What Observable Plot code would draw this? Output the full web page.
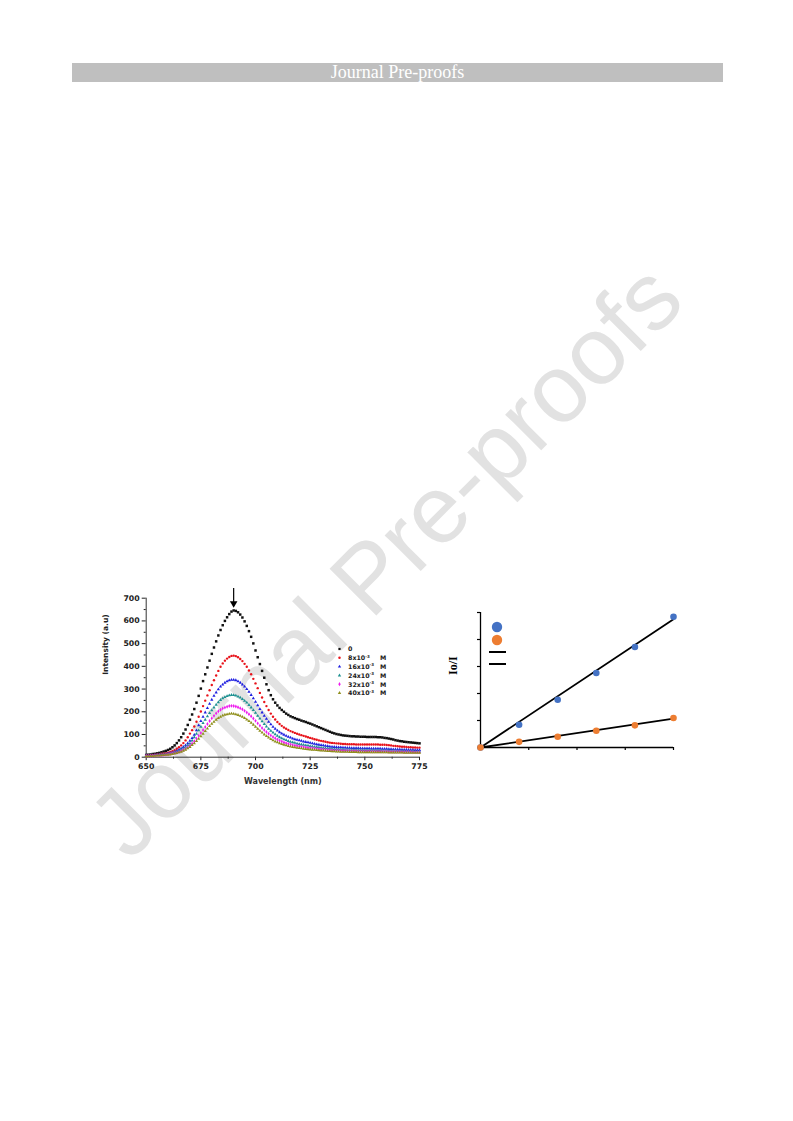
<!DOCTYPE html>
<html>
<head>
<meta charset="utf-8">
<script src="https://cdn.jsdelivr.net/npm/d3@7"></script>
<script src="https://cdn.jsdelivr.net/npm/@observablehq/plot@0.6"></script>
<style>
html,body{margin:0;padding:0;background:#fff;}
#page{position:relative;width:793px;height:1121px;overflow:hidden;background:#fff;}
#header{position:absolute;left:72px;top:63px;width:651px;height:19px;background:#bfbfbf;color:#fff;
  font-family:"Liberation Serif","Times New Roman",serif;font-size:18px;line-height:19px;text-align:center;}
#wm{position:absolute;left:385px;top:560px;transform:translate(-50%,-50%) rotate(-45deg);
  font-family:"Liberation Sans",Arial,sans-serif;font-size:96px;color:#e2e2e2;white-space:nowrap;line-height:1;}
#left{position:absolute;left:95px;top:575px;}
#right{position:absolute;left:445px;top:600px;}
#legL{position:absolute;left:330px;top:640px;}
#legR{position:absolute;left:485px;top:620px;}
</style>
</head>
<body>
<div id="page">
  <div id="header">Journal Pre-proofs</div>
  <div id="wm">Journal Pre-proofs</div>
  <div id="left"></div>
  <div id="right"></div>
  <svg id="legL" width="70" height="60"></svg>
  <svg id="legR" width="30" height="50"></svg>
</div>
<script>
// ---------- Left chart: emission spectra ----------
const wavelengths = d3.range(650, 776); // 1 nm steps, 650..775
const spec0 = [
  10,11,12,14,15,17,19,22,25,28,
  32,37,44,52,62,74,88,104,122,142,
  165,188,212,240,270,302,335,365,395,425,
  455,483,510,536,560,581,600,616,630,641,
  646,644,638,628,615,598,578,555,530,501,
  470,440,410,380,350,321,295,273,255,240,
  228,217,208,200,192,186,180,176,172,168,
  165,161,158,155,151,148,144,140,136,132,
  128,124,120,116,112,108,105,102,100,98,
  96,95,94,93,92,92,91,91,90,90,
  90,89,89,89,89,89,88,88,87,85,
  84,82,80,78,75,73,71,70,68,67,
  66,65,64,63,62,61];
const spec8 = [
  8,8,9,10,11,12,13,15,17,18,
  20,23,26,31,37,44,52,62,74,88,
  104,119,135,156,178,201,225,249,272,295,
  318,339,360,380,398,413,425,434,441,446,
  447,445,440,432,423,411,398,382,365,345,
  325,304,283,263,243,225,208,192,178,166,
  155,146,138,131,125,120,115,111,107,103,
  100,97,94,91,88,85,82,79,77,74,
  72,70,68,66,64,63,62,61,60,59,
  58,58,57,57,57,57,56,56,56,56,
  56,56,56,56,56,56,56,55,55,55,
  54,53,52,50,49,48,47,46,46,45,
  44,44,43,43,42,42];
const spec16 = [
  7,7,8,8,9,10,11,12,13,14,
  16,18,20,24,28,33,38,45,52,61,
  72,84,98,118,140,159,178,197,216,235,
  253,270,285,299,311,320,328,334,338,341,
  341,339,334,328,320,311,300,288,274,259,
  244,228,212,197,182,169,156,145,134,125,
  117,110,104,99,94,90,86,82,79,76,
  74,72,69,67,65,63,61,59,57,55,
  53,52,50,49,47,46,45,44,43,43,
  42,42,41,41,40,40,40,40,39,39,
  39,39,39,38,38,38,38,38,37,37,
  37,36,36,35,35,34,34,33,33,33,
  32,32,32,31,31,31];
const spec24 = [
  6,6,7,7,8,9,10,11,12,13,
  14,16,18,21,24,28,32,38,44,52,
  60,73,88,103,118,134,150,165,180,194,
  206,219,231,242,252,259,265,269,272,274,
  273,271,267,262,256,248,240,230,219,207,
  195,182,170,158,146,135,125,116,108,101,
  94,88,83,79,75,71,68,65,63,60,
  58,56,54,52,51,49,48,46,45,43,
  42,41,40,39,38,37,36,35,35,34,
  34,33,33,33,32,32,32,32,31,31,
  31,31,31,30,30,30,30,30,29,29,
  29,29,28,28,28,27,27,27,27,26,
  26,26,26,25,25,25];
const spec32 = [
  5,5,6,6,7,8,8,9,10,11,
  12,14,16,18,20,23,27,32,37,44,
  51,60,70,82,94,107,120,133,146,159,
  171,182,193,202,209,215,219,222,225,226,
  225,223,220,216,211,204,197,189,180,170,
  160,149,139,129,120,111,103,96,89,83,
  78,73,69,65,62,59,56,54,52,50,
  48,46,45,43,42,41,40,38,37,36,
  35,34,33,32,32,31,30,30,29,29,
  28,28,28,27,27,27,27,26,26,26,
  26,26,26,25,25,25,25,25,25,25,
  25,24,24,24,24,24,24,23,23,23,
  23,23,22,22,22,22];
const spec40 = [
  4,4,5,5,6,7,7,8,9,10,
  11,12,14,16,18,21,24,28,33,39,
  45,53,61,71,81,92,103,115,126,137,
  147,156,165,172,178,183,187,189,191,192,
  191,189,186,182,178,172,166,159,151,143,
  134,125,116,108,100,93,86,80,74,69,
  65,61,58,55,52,49,47,45,43,41,
  40,39,37,36,35,34,33,32,31,30,
  29,29,28,27,27,26,26,25,25,24,
  24,24,24,23,23,23,23,22,22,22,
  22,22,22,21,21,21,21,21,21,21,
  21,20,20,20,20,20,20,20,19,19,
  19,19,19,19,19,19];

const seriesNames = ["0", "8x10", "16x10", "24x10", "32x10", "40x10"];
const seriesColors = ["#111111", "#e8131b", "#1f1fe0", "#1d9191", "#ee1aee", "#8f8f1c"];
const seriesSymbols = ["square", "circle", "triangle", "triangle", "diamond", "triangle"];
const seriesValues = [spec0, spec8, spec16, spec24, spec32, spec40];

const xTicksL = [650, 675, 700, 725, 750, 775];
const xMinorL = [662.5, 687.5, 712.5, 737.5, 762.5];
const yTicksL = [0, 100, 200, 300, 400, 500, 600, 700];
const yMinorL = [50, 150, 250, 350, 450, 550, 650];
const arrowAt = [{nm: 690, from: 745, to: 668}];

const leftPlot = Plot.plot({
  width: 345, height: 220,
  marginLeft: 50.7, marginRight: 21, marginTop: 22.7, marginBottom: 38.3,
  style: {background: "transparent", fontFamily: "DejaVu Sans, sans-serif", fontWeight: "bold", fontSize: "7.8px", color: "#222"},
  x: {domain: [650, 775]},
  y: {domain: [0, 700]},
  marks: [
    Plot.axisX({ticks: xTicksL, tickSize: 3.5, tickPadding: 3, label: null}),
    Plot.axisX({ticks: xMinorL, tickSize: 2, tickFormat: () => "", label: null}),
    Plot.axisY({ticks: yTicksL, tickSize: 4, tickPadding: 2.5, label: null}),
    Plot.axisY({ticks: yMinorL, tickSize: 2, tickFormat: () => "", label: null}),
    Plot.ruleX([650], {stroke: "#333", strokeWidth: 1}),
    Plot.ruleY([0], {stroke: "#333", strokeWidth: 1}),
    ...seriesValues.map((vals, k) => Plot.dot(vals, {
      x: (d, i) => wavelengths[i], y: d => d,
      fill: seriesColors[k], symbol: seriesSymbols[k], r: k === 0 ? 1.4 : 1.2, stroke: "none"
    })),
    Plot.link(arrowAt, {x1: "nm", y1: "from", x2: "nm", y2: "to", stroke: "#000", strokeWidth: 1.2}),
    Plot.dot(arrowAt, {x: "nm", y: "to", symbol: "triangle", rotate: 180, r: 2.8, dy: -2, fill: "#000"}),
    Plot.text(["Wavelength (nm)"], {frameAnchor: "bottom", dy: 27, fontSize: 8, fontWeight: "bold", fill: "#333"}),
    Plot.text(["Intensity (a.u)"], {frameAnchor: "left", rotate: -90, dx: -40.5, dy: -3, fontSize: 7.5, fontWeight: "bold", fill: "#222"})
  ]
});
document.getElementById("left").appendChild(leftPlot);

// Left legend
const legL = d3.select("#legL");
seriesNames.forEach((name, k) => {
  const y = 9 + k * 8.8;
  const sym = d3.symbol(
    {square: d3.symbolSquare, circle: d3.symbolCircle, triangle: d3.symbolTriangle, diamond: d3.symbolDiamond}[seriesSymbols[k]], 5);
  legL.append("path").attr("d", sym()).attr("transform", `translate(9.5,${y})`).attr("fill", seriesColors[k]);
  const t = legL.append("text").attr("x", 18).attr("y", y + 2.3)
    .attr("font-family", "DejaVu Sans, sans-serif").attr("font-weight", "bold").attr("font-size", 6.3).attr("fill", "#222");
  t.append("tspan").text(name);
  if (k > 0) {
    t.append("tspan").attr("dy", -2.6).attr("font-size", 4).text("-3");
    t.append("tspan").attr("x", 50).attr("dy", 2.6).text("M");
  }
});

// ---------- Right chart: Stern-Volmer ----------
const concentration = [0, 8, 16, 24, 32, 40];
const ratioBlue = [0, 0.84, 1.77, 2.76, 3.72, 4.84];
const ratioOrange = [0, 0.21, 0.40, 0.62, 0.82, 1.09];
const fitSlopeBlue = 0.1188;
const fitSlopeOrange = 0.0268;
const xTicksR = [0, 10, 20, 30, 40];
const yTicksR = [0, 1, 2, 3, 4, 5];
const xDomR = [0, 40];

const rightPlot = Plot.plot({
  width: 240, height: 160,
  marginLeft: 35, marginRight: 12, marginTop: 12, marginBottom: 13,
  style: {background: "transparent", color: "#000"},
  x: {domain: xDomR},
  y: {domain: [0, 5]},
  marks: [
    Plot.axisX({ticks: xTicksR, tickSize: 3, tickFormat: () => "", label: null, strokeWidth: 1.2}),
    Plot.axisY({ticks: yTicksR, tickSize: 3, tickFormat: () => "", label: null, strokeWidth: 1.2}),
    Plot.ruleX([0], {stroke: "#000", strokeWidth: 1.3}),
    Plot.ruleY([0], {stroke: "#000", strokeWidth: 1.3}),
    Plot.line(xDomR, {x: d => d, y: d => d * fitSlopeBlue, stroke: "#000", strokeWidth: 1.8}),
    Plot.line(xDomR, {x: d => d, y: d => d * fitSlopeOrange, stroke: "#000", strokeWidth: 1.8}),
    Plot.dot(concentration, {x: d => d, y: (d, i) => ratioBlue[i], fill: "#4472c4", r: 3.3}),
    Plot.dot(concentration, {x: d => d, y: (d, i) => ratioOrange[i], fill: "#ed7d31", r: 3.3}),
    Plot.text(["Io/I"], {frameAnchor: "left", rotate: -90, dx: -27, dy: -5, fontSize: 12, fontWeight: "bold",
      fontFamily: "Liberation Serif, Times New Roman, serif", fill: "#000"})
  ]
});
document.getElementById("right").appendChild(rightPlot);

// Right legend
const legR = d3.select("#legR");
legR.append("circle").attr("cx", 12).attr("cy", 7).attr("r", 5.2).attr("fill", "#4472c4");
legR.append("circle").attr("cx", 12).attr("cy", 20).attr("r", 5.2).attr("fill", "#ed7d31");
legR.append("line").attr("x1", 4).attr("x2", 21).attr("y1", 32).attr("y2", 32).attr("stroke", "#000").attr("stroke-width", 2);
legR.append("line").attr("x1", 4).attr("x2", 21).attr("y1", 44).attr("y2", 44).attr("stroke", "#000").attr("stroke-width", 2);
</script>
</body>
</html>
